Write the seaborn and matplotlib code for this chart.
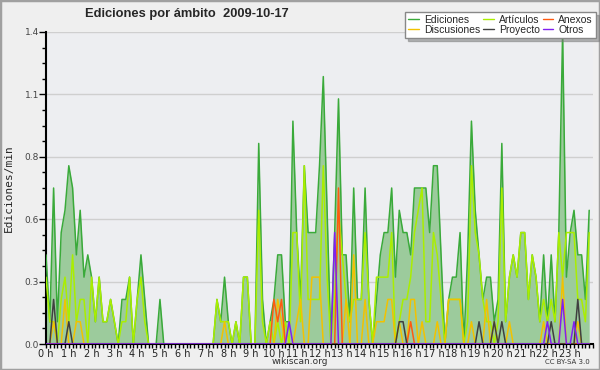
import numpy as np
import pandas as pd
import seaborn as sns
import matplotlib.pyplot as plt
from matplotlib.lines import Line2D
from matplotlib.patches import Rectangle
from matplotlib.ticker import FixedLocator, MultipleLocator, FormatStrFormatter

# ediciones por minuto, un valor cada 10 min (6 por hora, 2 horas por fila)
ediciones = [
    0.4, 0.1, 0.7, 0.1, 0.5, 0.6, 0.8, 0.7, 0.4, 0.6, 0.3, 0.4,
    0.3, 0.1, 0.3, 0.1, 0.1, 0.2, 0.1, 0.0, 0.2, 0.2, 0.3, 0.0,
    0.2, 0.4, 0.2, 0.0, 0.0, 0.0, 0.2, 0.0, 0.0, 0.0, 0.0, 0.0,
    0.0, 0.0, 0.0, 0.0, 0.0, 0.0, 0.0, 0.0, 0.0, 0.2, 0.1, 0.3,
    0.1, 0.0, 0.1, 0.0, 0.3, 0.3, 0.0, 0.0, 0.9, 0.2, 0.0, 0.1,
    0.2, 0.4, 0.4, 0.1, 0.1, 1.0, 0.5, 0.2, 0.8, 0.5, 0.5, 0.5,
    0.8, 1.2, 0.6, 0.0, 0.5, 1.1, 0.4, 0.4, 0.1, 0.7, 0.2, 0.2,
    0.7, 0.2, 0.0, 0.2, 0.4, 0.5, 0.5, 0.7, 0.3, 0.6, 0.5, 0.5,
    0.4, 0.7, 0.7, 0.7, 0.7, 0.5, 0.8, 0.8, 0.4, 0.0, 0.2, 0.3,
    0.3, 0.5, 0.0, 0.4, 1.0, 0.6, 0.4, 0.2, 0.3, 0.3, 0.1, 0.2,
    0.9, 0.1, 0.3, 0.4, 0.3, 0.5, 0.5, 0.2, 0.4, 0.3, 0.1, 0.4,
    0.1, 0.4, 0.1, 0.5, 1.4, 0.3, 0.5, 0.6, 0.4, 0.4, 0.2, 0.6,
]
articulos = [
    0.3, 0.1, 0.1, 0.0, 0.2, 0.3, 0.1, 0.4, 0.1, 0.2, 0.2, 0.0,
    0.3, 0.1, 0.3, 0.1, 0.1, 0.2, 0.1, 0.0, 0.1, 0.1, 0.3, 0.0,
    0.2, 0.3, 0.1, 0.0, 0.0, 0.0, 0.0, 0.0, 0.0, 0.0, 0.0, 0.0,
    0.0, 0.0, 0.0, 0.0, 0.0, 0.0, 0.0, 0.0, 0.0, 0.2, 0.1, 0.1,
    0.1, 0.0, 0.1, 0.0, 0.3, 0.3, 0.0, 0.0, 0.6, 0.1, 0.0, 0.1,
    0.0, 0.1, 0.0, 0.1, 0.0, 0.5, 0.5, 0.1, 0.8, 0.2, 0.2, 0.2,
    0.2, 0.8, 0.3, 0.0, 0.2, 0.6, 0.4, 0.2, 0.1, 0.2, 0.2, 0.2,
    0.5, 0.2, 0.0, 0.3, 0.3, 0.3, 0.3, 0.5, 0.0, 0.1, 0.2, 0.2,
    0.3, 0.5, 0.6, 0.7, 0.1, 0.1, 0.5, 0.4, 0.2, 0.0, 0.2, 0.2,
    0.2, 0.2, 0.0, 0.1, 0.8, 0.5, 0.4, 0.2, 0.1, 0.1, 0.0, 0.1,
    0.7, 0.1, 0.3, 0.4, 0.3, 0.5, 0.5, 0.2, 0.4, 0.3, 0.1, 0.2,
    0.1, 0.2, 0.1, 0.5, 0.3, 0.5, 0.5, 0.5, 0.2, 0.2, 0.1, 0.5,
]
discusiones = [
    0.0, 0.0, 0.1, 0.0, 0.0, 0.2, 0.0, 0.0, 0.1, 0.1, 0.0, 0.0,
    0.0, 0.0, 0.0, 0.0, 0.0, 0.0, 0.0, 0.0, 0.0, 0.0, 0.0, 0.0,
    0.0, 0.0, 0.0, 0.0, 0.0, 0.0, 0.0, 0.0, 0.0, 0.0, 0.0, 0.0,
    0.0, 0.0, 0.0, 0.0, 0.0, 0.0, 0.0, 0.0, 0.0, 0.0, 0.0, 0.1,
    0.0, 0.0, 0.0, 0.0, 0.0, 0.0, 0.0, 0.0, 0.0, 0.0, 0.0, 0.0,
    0.0, 0.2, 0.1, 0.0, 0.0, 0.0, 0.1, 0.2, 0.0, 0.0, 0.3, 0.3,
    0.3, 0.0, 0.0, 0.0, 0.0, 0.0, 0.0, 0.2, 0.0, 0.4, 0.0, 0.0,
    0.2, 0.0, 0.0, 0.1, 0.1, 0.1, 0.2, 0.2, 0.0, 0.1, 0.0, 0.0,
    0.2, 0.2, 0.0, 0.1, 0.0, 0.0, 0.0, 0.1, 0.0, 0.0, 0.2, 0.2,
    0.2, 0.2, 0.0, 0.0, 0.1, 0.0, 0.0, 0.0, 0.2, 0.0, 0.1, 0.0,
    0.0, 0.0, 0.1, 0.0, 0.0, 0.0, 0.0, 0.0, 0.0, 0.0, 0.0, 0.1,
    0.0, 0.0, 0.0, 0.0, 0.3, 0.0, 0.0, 0.0, 0.1, 0.0, 0.0, 0.0,
]
anexos = [0.0] * 60 + [0.2, 0.1, 0.2] + [0.0] * 14 + [0.7] + [0.0] * 18 + [0.1] + [0.0] * 47
proyecto = (
    [0.0, 0.0, 0.2, 0.0, 0.0, 0.0, 0.1] + [0.0] * 86 + [0.1, 0.1] + [0.0] * 19
    + [0.1, 0.0, 0.0, 0.0, 0.1, 0.0, 0.1] + [0.0] * 12 + [0.1] + [0.0] * 6 + [0.2, 0.0, 0.0, 0.0]
)
otros = [0.0] * 64 + [0.1, 0.0, 0.0, 0.0, 0.0, 0.0, 0.0, 0.0, 0.0, 0.0, 0.0, 0.0, 0.5] + [0.0] * 55 \
    + [0.1, 0.0, 0.0, 0.0, 0.2, 0.0, 0.0, 0.1] + [0.0] * 4

series = ['Ediciones', 'Artículos', 'Discusiones', 'Anexos', 'Proyecto', 'Otros']
colores = {
    'Ediciones': '#3aaa3a',
    'Artículos': '#aaee00',
    'Discusiones': '#f2c200',
    'Anexos': '#ff5a10',
    'Proyecto': '#404040',
    'Otros': '#8020f0',
}
hora_labels = [f'{h} h' for h in range(24)]

horas = np.arange(len(ediciones)) / 6
valores = [ediciones, articulos, discusiones, anexos, proyecto, otros]
df = pd.concat([pd.DataFrame({'hora': horas, 'valor': v, 'serie': s})
                for s, v in zip(series, valores)], ignore_index=True)

sns.set_theme(style='white')
plt.rcParams['font.family'] = ['DejaVu Sans']

fig = plt.figure(figsize=(6, 3.7), dpi=100, facecolor='#efefef')
ax = fig.add_axes([46 / 600, 26 / 370, 547 / 600, 312 / 370])
ax.set_facecolor('#edeef1')

ed = df[df['serie'] == 'Ediciones']
ax.fill_between(ed['hora'], ed['valor'], color='#9ccb9c', zorder=1, lw=0)
sns.lineplot(data=df, x='hora', y='valor', hue='serie', hue_order=series,
             palette=colores, linewidth=1.1, legend=False, ax=ax, zorder=3)

ax.set_xlim(0, 24)
ax.set_ylim(0, 1.4)
ax.yaxis.set_major_locator(FixedLocator(np.arange(0, 1.41, 0.28)))
ax.yaxis.set_minor_locator(MultipleLocator(0.07))
ax.yaxis.set_major_formatter(FormatStrFormatter('%.1f'))
ax.set_xticks(range(24))
ax.set_xticklabels(hora_labels)
ax.xaxis.set_minor_locator(MultipleLocator(1 / 6))
ax.grid(axis='y', color='#cfcfcf', lw=1, zorder=0)
ax.set_axisbelow(True)

for s in ['top', 'right']:
    ax.spines[s].set_visible(False)
for s in ['left', 'bottom']:
    ax.spines[s].set_color('black')
    ax.spines[s].set_linewidth(1.5)

ax.tick_params(axis='y', which='major', left=True, length=5, width=1, color='black',
               labelsize=6.5, labelcolor='#444444', pad=0)
ax.tick_params(axis='y', which='minor', left=True, length=3, width=1, color='black')
ax.tick_params(axis='x', which='major', bottom=True, length=3, width=1, color='black',
               labelsize=7, labelcolor='#222222', pad=0.5)
ax.tick_params(axis='x', which='minor', bottom=True, length=3, width=1, color='black')
ax.set_xlabel('')
ax.set_ylabel('Ediciones/min', fontsize=8, family='DejaVu Sans Mono')
ax.yaxis.set_label_coords(-0.058, 0.5)

fig.text(85 / 600, 1 - 14 / 370, 'Ediciones por ámbito  2009-10-17', fontsize=9.3,
         fontweight='bold', family='Liberation Sans', va='center', ha='left')
fig.text(300 / 600, 1 - 362 / 370, 'wikiscan.org', fontsize=6.5, color='#333333',
         ha='center', va='center')
fig.text(590 / 600, 1 - 362 / 370, 'CC BY-SA 3.0', fontsize=5, color='#333333',
         ha='right', va='center')

orden = ['Ediciones', 'Discusiones', 'Artículos', 'Proyecto', 'Anexos', 'Otros']
handles = [Line2D([], [], color=colores[s], lw=1) for s in orden]
leg = fig.legend(handles, orden, ncol=3, loc='upper left', bbox_to_anchor=(405 / 600, 1 - 12 / 370),
                 prop={'family': 'Liberation Sans', 'size': 7.5}, frameon=True, fancybox=False,
                 shadow={'color': '#777777'}, handlelength=1.0, handletextpad=0.5,
                 columnspacing=0.3, labelspacing=0.0, borderpad=0.3, borderaxespad=0)
leg.get_frame().set_edgecolor('#888888')
leg.get_frame().set_facecolor('white')
leg.get_frame().set_alpha(1)

fig.patches.append(Rectangle((0, 0), 1, 1, transform=fig.transFigure, fill=False,
                             edgecolor='#a0a0a0', lw=2.5))

fig.savefig('out.png', dpi=100, facecolor=fig.get_facecolor())
